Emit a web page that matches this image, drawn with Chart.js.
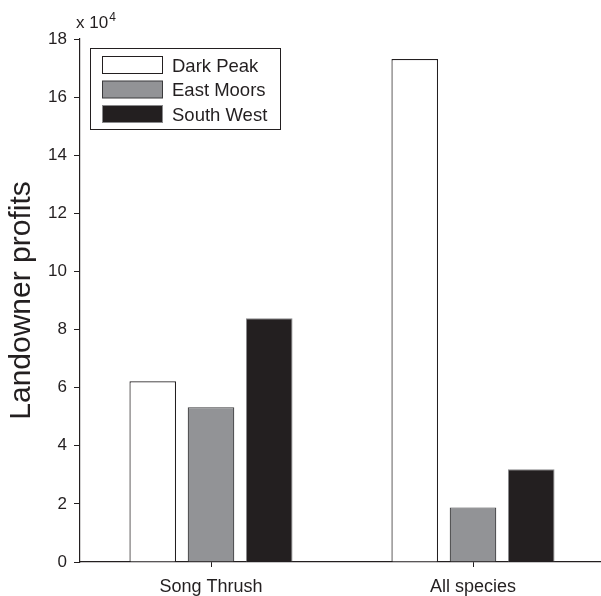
<!DOCTYPE html>
<html>
<head>
<meta charset="utf-8">
<script src="https://cdn.jsdelivr.net/npm/chart.js@4/dist/chart.umd.min.js"></script>
<style>
  html, body { margin: 0; padding: 0; background: #fff; overflow: hidden; }
  #wrap { width: 604px; height: 596px; }
</style>
</head>
<body>
<div id="wrap"><canvas id="chart"></canvas></div>
<script>
/* data, in units of 10^4 */
const categories = ["Song Thrush", "All species"];
const darkPeak = [6.22, 17.31];
const eastMoors = [5.33, 1.88];
const southWest = [8.39, 3.19];
const yTicks = [0, 2, 4, 6, 8, 10, 12, 14, 16, 18];

const FONT = "'Liberation Sans', Arial, sans-serif";

/* boxed legend in the top left + the "x 10^4" multiplier */
const extras = {
  id: "extras",
  afterDraw(c) {
    const ctx = c.ctx;
    const area = c.chartArea;
    ctx.save();
    // multiplier
    ctx.fillStyle = "#231f20";
    ctx.textBaseline = "alphabetic";
    ctx.font = "17px " + FONT;
    ctx.fillText("x 10", area.left - 4, 28);
    const w = ctx.measureText("x 10").width;
    ctx.font = "12px " + FONT;
    ctx.fillText("4", area.left - 4 + w + 1, 21);

    // legend box
    const bx = 90.5, by = 48.5, bw = 190, bh = 81;
    ctx.fillStyle = "#fff";
    ctx.fillRect(bx, by, bw, bh);
    ctx.strokeStyle = "#231f20";
    ctx.lineWidth = 1;
    ctx.strokeRect(bx, by, bw, bh);
    ctx.font = "18.5px " + FONT;
    ctx.textBaseline = "middle";
    c.data.datasets.forEach((ds, i) => {
      const sy = 56.5 + i * 24.5;
      ctx.fillStyle = ds.backgroundColor;
      ctx.fillRect(102.5, sy, 60, 17);
      ctx.strokeStyle = ds.borderColor;
      ctx.strokeRect(102.5, sy, 60, 17);
      ctx.fillStyle = "#231f20";
      ctx.fillText(ds.label, 172, sy + 10);
    });
    ctx.restore();
  }
};

new Chart(document.getElementById("chart"), {
  type: "bar",
  data: {
    labels: categories,
    datasets: [
      { label: "Dark Peak", data: darkPeak, backgroundColor: "#ffffff", borderColor: "#231f20", borderWidth: 1.2 },
      { label: "East Moors", data: eastMoors, backgroundColor: "#929396", borderColor: "#3a3a3c", borderWidth: 1.2 },
      { label: "South West", data: southWest, backgroundColor: "#231f20", borderColor: "#8a8a8c", borderWidth: 1 }
    ]
  },
  options: {
    responsive: true,
    maintainAspectRatio: false,
    animation: false,
    barPercentage: 0.80,
    categoryPercentage: 0.667,
    layout: { padding: { top: 39, right: 0, left: 0, bottom: 0 } },
    plugins: { legend: { display: false }, tooltip: { enabled: false } },
    scales: {
      x: {
        grid: { offset: false, drawOnChartArea: false, tickLength: 5, color: "#231f20" },
        border: { color: "#231f20", width: 1.2 },
        ticks: { color: "#231f20", font: { family: FONT, size: 18 }, padding: 9 },
        afterFit(s) { s.height = 34; }
      },
      y: {
        min: 0,
        max: 18,
        afterBuildTicks(s) { s.ticks = yTicks.map(v => ({ value: v })); },
        grid: { drawOnChartArea: false, tickLength: 6, color: "#231f20" },
        border: { color: "#231f20", width: 1.2 },
        ticks: { color: "#231f20", font: { family: FONT, size: 17 }, padding: 7 },
        title: { display: true, text: "Landowner profits", color: "#231f20", font: { family: FONT, size: 30 }, padding: { top: 4, bottom: 0 } },
        afterFit(s) { s.width = 80; }
      }
    }
  },
  plugins: [extras]
});
</script>
</body>
</html>
